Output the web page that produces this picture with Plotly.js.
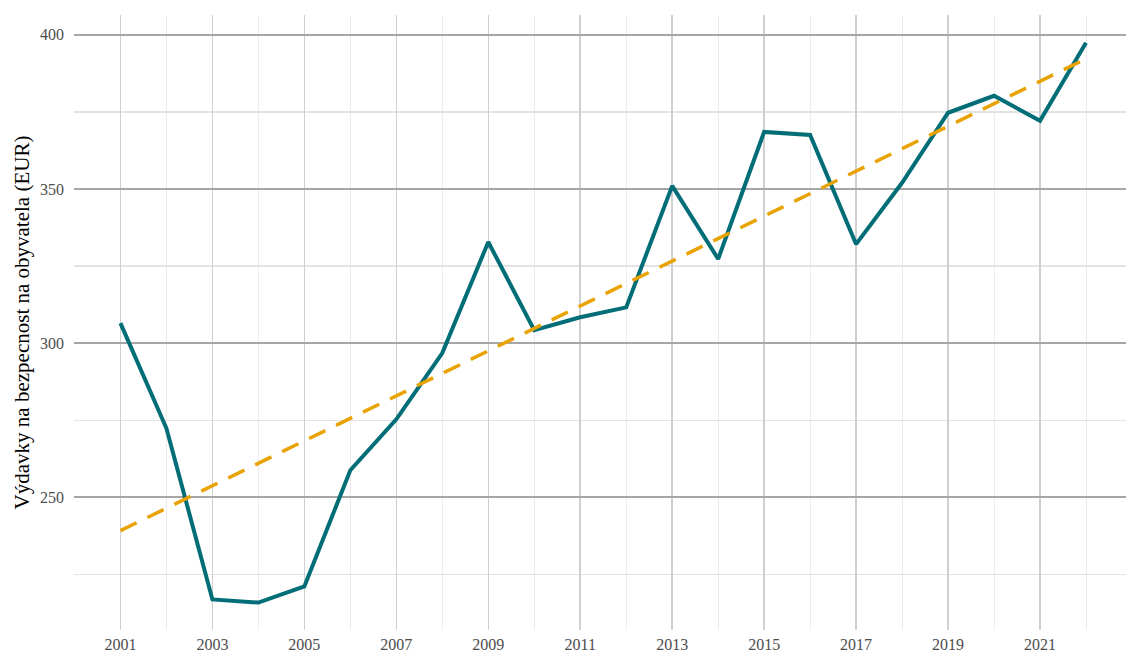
<!DOCTYPE html>
<html>
<head>
<meta charset="utf-8">
<script src="https://cdn.plot.ly/plotly-3.0.1.min.js"></script>
<style>html,body{margin:0;padding:0;background:#fff;}#chart{width:1126px;height:653px;}</style>
</head>
<body>
<div id="chart"></div>
<script>
const years = [2001,2002,2003,2004,2005,2006,2007,2008,2009,2010,2011,2012,2013,2014,2015,2016,2017,2018,2019,2020,2021,2022];
const spending = [306.5,272.4,216.9,215.9,221.1,258.8,275.3,296.8,332.8,304.2,308.4,311.6,351.0,327.3,368.5,367.5,332.1,352.0,374.7,380.2,372.1,397.4];
const trendYears = [2001,2022];
const trendValues = [239.2,392.2];
const yTickVals = [250,300,350,400];
const yTitle = "Výdavky na bezpecnost na obyvatela (EUR)";

const traces = [
  {x: years, y: spending, type: 'scatter', mode: 'lines',
   line: {color: '#006d77', width: 4}, hoverinfo: 'x+y'},
  {x: trendYears, y: trendValues, type: 'scatter', mode: 'lines',
   line: {color: '#e8a202', width: 3.5, dash: '18px,12px'}, hoverinfo: 'skip'}
];

const fam = '"Liberation Serif", "DejaVu Serif", serif';
const layout = {
  width: 1126, height: 653,
  margin: {l: 74, r: 0, t: 15, b: 23},
  paper_bgcolor: '#ffffff', plot_bgcolor: '#ffffff',
  showlegend: false,
  font: {family: fam, size: 16, color: '#4d4d4d'},
  xaxis: {
    range: [1999.99, 2022.87], tickmode: 'linear', tick0: 2001, dtick: 2,
    showgrid: true, gridcolor: '#d0d0d0', gridwidth: 1.5,
    minor: {tickmode: 'linear', tick0: 2000, dtick: 1, showgrid: true, gridcolor: '#ececec', gridwidth: 1},
    zeroline: false, showline: false, ticks: '', ticklabelstandoff: 3,
    tickfont: {family: fam, size: 16, color: '#4d4d4d'}
  },
  yaxis: {
    range: [207.0, 406.4], tickmode: 'array', tickvals: yTickVals,
    showgrid: true, gridcolor: '#a6a6a6', gridwidth: 2,
    minor: {tickmode: 'linear', tick0: 225, dtick: 50, showgrid: true, gridcolor: '#e3e3e3', gridwidth: 1.5},
    zeroline: false, showline: false, ticks: '', ticklabelstandoff: 9,
    tickfont: {family: fam, size: 16, color: '#4d4d4d'},
    title: {text: yTitle, font: {family: fam, size: 21, color: '#000000'}, standoff: 4}
  }
};
Plotly.newPlot('chart', traces, layout, {displayModeBar: false, staticPlot: true});
</script>
</body>
</html>
